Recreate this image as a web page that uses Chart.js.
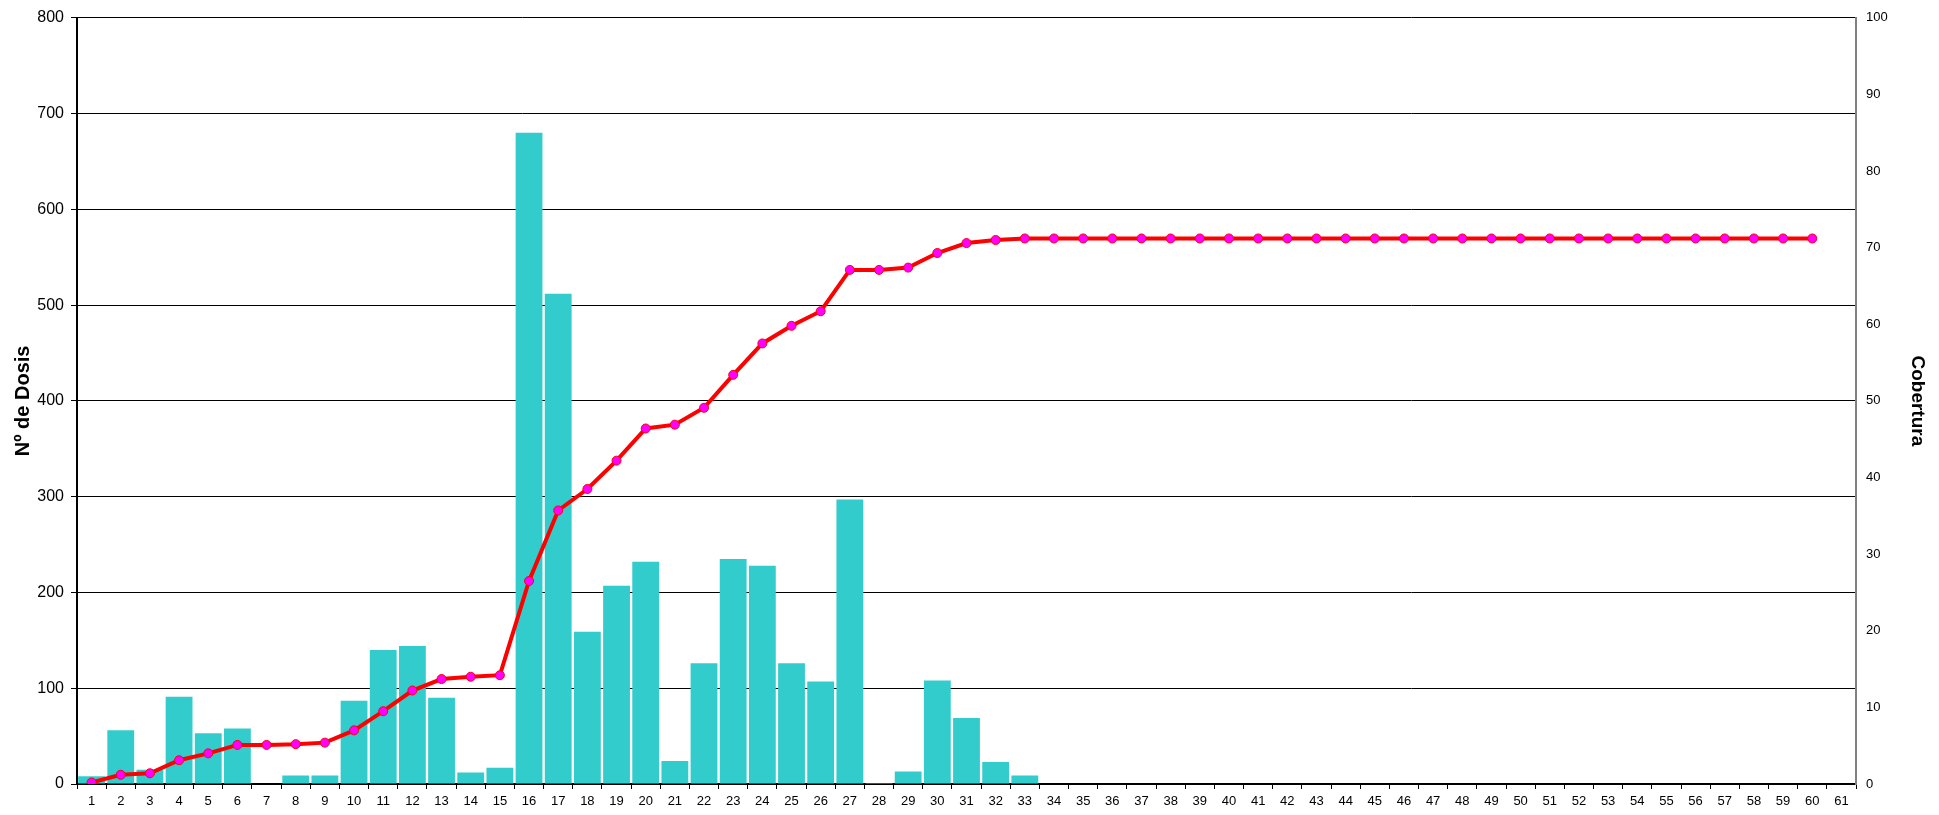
<!DOCTYPE html>
<html>
<head>
<meta charset="utf-8">
<style>
  html, body { margin: 0; padding: 0; background: #fff; }
  #wrap { width: 1939px; height: 815px; position: relative; }
</style>
<script src="https://cdn.jsdelivr.net/npm/chart.js@4/dist/chart.umd.min.js"></script>
</head>
<body>
<div id="wrap"><canvas id="c" width="1939" height="815"></canvas></div>
<script>
const semanas = ["1","2","3","4","5","6","7","8","9","10","11","12","13","14","15","16","17","18","19","20",
  "21","22","23","24","25","26","27","28","29","30","31","32","33","34","35","36","37","38","39","40",
  "41","42","43","44","45","46","47","48","49","50","51","52","53","54","55","56","57","58","59","60","61"];

const dosis = [8,56,15,91,53,58,0,9,9,87,140,144,90,12,17,680,512,159,207,232,24,126,235,228,126,107,297,1,13,108,69,23,9];

const cobertura = [0.2,1.2,1.4,3.1,4.0,5.1,5.1,5.2,5.4,7.0,9.5,12.2,13.7,14.0,14.2,26.5,35.7,38.5,42.2,46.4,
  46.9,49.1,53.4,57.5,59.8,61.7,67.1,67.1,67.4,69.3,70.6,71.0,71.2,71.2,71.2,71.2,71.2,71.2,71.2,71.2,
  71.2,71.2,71.2,71.2,71.2,71.2,71.2,71.2,71.2,71.2,71.2,71.2,71.2,71.2,71.2,71.2,71.2,71.2,71.2,71.2];

const tituloIzq = "Nº de Dosis";
const tituloDer = "Cobertura";

const ctx = document.getElementById('c').getContext('2d');
new Chart(ctx, {
  data: {
    labels: semanas,
    datasets: [
      {
        type: 'line',
        label: tituloDer,
        data: cobertura,
        yAxisID: 'y2',
        borderColor: '#FF0000',
        borderWidth: 4,
        pointRadius: 4.5,
        pointBackgroundColor: '#FF00FF',
        pointBorderColor: '#FF0000',
        pointBorderWidth: 1,
        tension: 0,
        order: 0
      },
      {
        type: 'bar',
        label: tituloIzq,
        data: dosis,
        yAxisID: 'y',
        backgroundColor: '#33CCCC',
        borderWidth: 0,
        barPercentage: 0.92,
        categoryPercentage: 1.0,
        order: 1
      }
    ]
  },
  options: {
    responsive: false,
    animation: false,
    devicePixelRatio: 1,
    layout: { padding: { top: 17, left: 0, right: 0, bottom: 0 } },
    plugins: { legend: { display: false }, tooltip: { enabled: false } },
    scales: {
      x: {
        offset: true,
        grid: { offset: true, drawOnChartArea: false, drawTicks: true, tickLength: 5, color: '#000', lineWidth: 1 },
        border: { display: true, color: '#000', width: 2 },
        ticks: { font: { family: 'Liberation Sans, Arial', size: 13 }, color: '#000', padding: 5, maxRotation: 0, autoSkip: false },
        afterFit: (s) => { s.height = 31; }
      },
      y: {
        position: 'left',
        min: 0, max: 800,
        ticks: { stepSize: 100, font: { family: 'Liberation Sans, Arial', size: 16 }, color: '#000', padding: 7 },
        grid: { color: '#000', lineWidth: 1, tickLength: 6 },
        border: { display: true, color: '#000', width: 2 },
        title: { display: true, text: tituloIzq, font: { family: 'Liberation Sans, Arial', size: 20, weight: 'bold' }, color: '#000', padding: { top: 11, bottom: 0 } },
        afterFit: (s) => { s.width = 77; }
      },
      y2: {
        position: 'right',
        min: 0, max: 100,
        ticks: { stepSize: 10, font: { family: 'Liberation Sans, Arial', size: 13 }, color: '#000', padding: 10 },
        grid: { drawOnChartArea: false, drawTicks: false },
        border: { display: true, color: '#808080', width: 2 },
        title: { display: true, text: tituloDer, font: { family: 'Liberation Sans, Arial', size: 19, weight: 'bold' }, color: '#000', padding: { top: 10, bottom: 0 } },
        afterFit: (s) => { s.width = 83; }
      }
    }
  }
});
</script>
</body>
</html>
